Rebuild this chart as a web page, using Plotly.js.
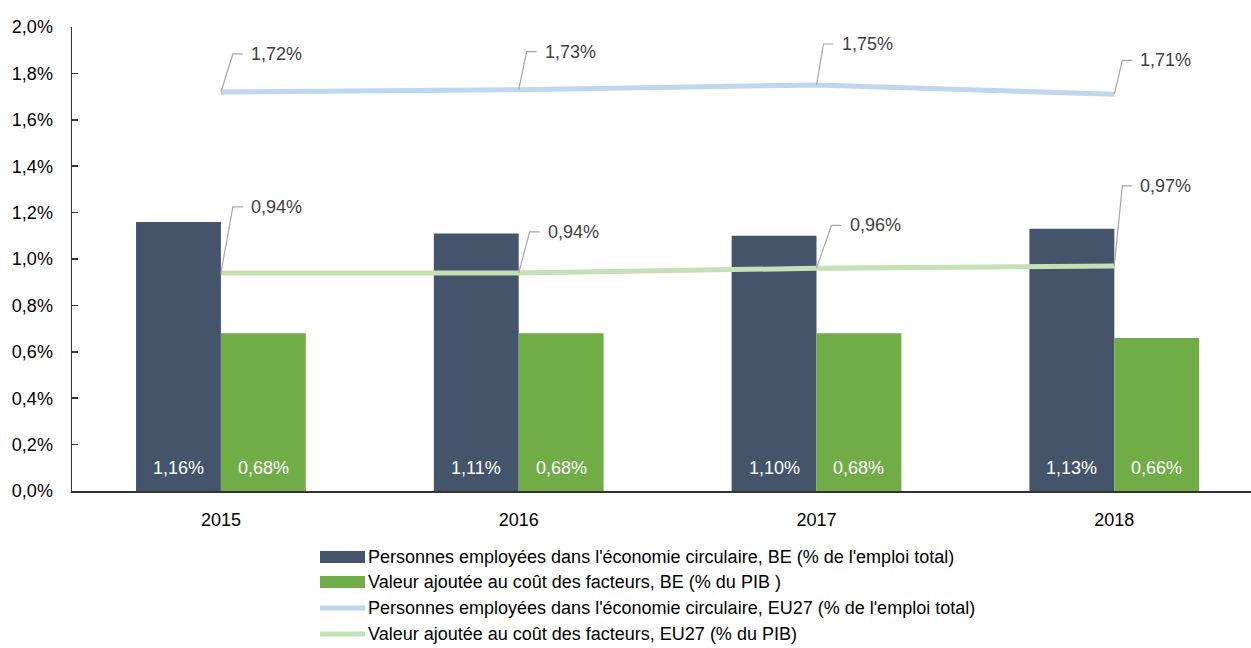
<!DOCTYPE html>
<html>
<head>
<meta charset="utf-8">
<script src="https://cdn.plot.ly/plotly-3.0.1.min.js"></script>
<style>html,body{margin:0;padding:0;background:#fff;}#chart{width:1251px;height:648px;}</style>
</head>
<body>
<div id="chart"></div>
<script>
// ---- data ----
var categories = ['2015', '2016', '2017', '2018'];
var beEmployment = [1.16, 1.11, 1.10, 1.13];
var beValueAdded = [0.68, 0.68, 0.68, 0.66];
var euEmployment = [1.72, 1.73, 1.75, 1.71];
var euValueAdded = [0.94, 0.94, 0.96, 0.97];
var seriesNames = [
  "Personnes employées dans l'économie circulaire, BE (% de l'emploi total)",
  "Valeur ajoutée au coût des facteurs, BE (% du PIB )",
  "Personnes employées dans l'économie circulaire, EU27 (% de l'emploi total)",
  "Valeur ajoutée au coût des facteurs, EU27 (% du PIB)"
];
var yTickVals = [0, 0.2, 0.4, 0.6, 0.8, 1.0, 1.2, 1.4, 1.6, 1.8, 2.0];
var yTickText = ['0,0%', '0,2%', '0,4%', '0,6%', '0,8%', '1,0%', '1,2%', '1,4%', '1,6%', '1,8%', '2,0%'];

// ---- style ----
var colors = ['#44546A', '#70AD47', '#BDD7EE', '#C5E0B4'];
var FONT = 'Liberation Sans, Arial, sans-serif';
var W = 1251, H = 648;
var M = {l: 72, r: 0, t: 27, b: 157};
var plotW = W - M.l - M.r, plotH = H - M.t - M.b;
var bargap = 0.43;
// leader-line offsets (pixels) for the line labels: [dx, dy]
var euEmpOffsets = [[12, 38], [8, 38], [7, 41], [8, 34]];
var euVaOffsets = [[12, 66], [11, 41], [15, 43], [8, 80]];

function fmt(v) { return v.toFixed(2).replace('.', ',') + '%'; }
function px2x(px) { return (px - M.l) / plotW; }
function px2y(py) { return (M.t + plotH - py) / plotH; }

var traces = [
  {type: 'bar', x: categories, y: beEmployment, name: seriesNames[0], marker: {color: colors[0]}, hoverinfo: 'none'},
  {type: 'bar', x: categories, y: beValueAdded, name: seriesNames[1], marker: {color: colors[1]}, hoverinfo: 'none'},
  {type: 'scatter', mode: 'lines', x: categories, y: euEmployment, name: seriesNames[2], line: {color: colors[2], width: 5}, hoverinfo: 'none'},
  {type: 'scatter', mode: 'lines', x: categories, y: euValueAdded, name: seriesNames[3], line: {color: colors[3], width: 5}, hoverinfo: 'none'}
];

var annotations = [];
var shapes = [];
var half = (1 - bargap) / 4;

function addLineLabels(vals, offs) {
  vals.forEach(function (v, i) {
    var dx = offs[i][0], dy = offs[i][1];
    shapes.push({
      type: 'path', xref: 'x', yref: 'y', xsizemode: 'pixel', ysizemode: 'pixel',
      xanchor: i, yanchor: v,
      path: 'M0,0 L' + dx + ',' + dy + ' L' + (dx + 10) + ',' + dy,
      line: {color: '#A6A6A6', width: 1.2}
    });
    annotations.push({
      x: i, y: v, xref: 'x', yref: 'y', text: fmt(v), showarrow: false,
      xanchor: 'left', yanchor: 'middle', xshift: dx + 16, yshift: dy,
      font: {family: FONT, size: 18, color: '#404040'}
    });
  });
}
addLineLabels(euEmployment, euEmpOffsets);
addLineLabels(euValueAdded, euVaOffsets);

function addBarLabels(vals, sign) {
  vals.forEach(function (v, i) {
    annotations.push({
      x: i + sign * half, y: 0, xref: 'x', yref: 'y', text: fmt(v), showarrow: false,
      xanchor: 'center', yanchor: 'middle', yshift: 23,
      font: {family: FONT, size: 18, color: '#FFFFFF'}
    });
  });
}
addBarLabels(beEmployment, -1);
addBarLabels(beValueAdded, 1);

// custom legend
var legendRows = [557, 582, 608, 634];
var symX0 = 320, symX1 = 365, textX = 366;
seriesNames.forEach(function (name, k) {
  var yc = legendRows[k];
  if (k < 2) {
    shapes.push({type: 'rect', xref: 'paper', yref: 'paper',
      x0: px2x(symX0), x1: px2x(symX1), y0: px2y(yc + 6), y1: px2y(yc - 6),
      fillcolor: colors[k], line: {width: 0}});
  } else {
    shapes.push({type: 'line', xref: 'paper', yref: 'paper',
      x0: px2x(symX0), x1: px2x(symX1), y0: px2y(yc), y1: px2y(yc),
      line: {color: colors[k], width: 5}});
  }
  annotations.push({xref: 'paper', yref: 'paper', x: px2x(textX), y: px2y(yc),
    xanchor: 'left', yanchor: 'middle', showarrow: false, text: name,
    font: {family: FONT, size: 18, color: '#000000'}});
});

var layout = {
  width: W, height: H, margin: M,
  paper_bgcolor: '#FFFFFF', plot_bgcolor: '#FFFFFF',
  showlegend: false,
  barmode: 'group', bargap: bargap, bargroupgap: 0,
  font: {family: FONT, size: 18, color: '#000000'},
  xaxis: {
    type: 'category', range: [-0.5, -0.5 + plotW / 297.8],
    showline: true, linecolor: '#333333', linewidth: 1.5,
    ticks: '', showgrid: false, zeroline: false,
    tickfont: {family: FONT, size: 18, color: '#000000'},
    ticklabelstandoff: 12
  },
  yaxis: {
    range: [0, 2.0], tickmode: 'array', tickvals: yTickVals, ticktext: yTickText,
    showline: true, linecolor: '#333333', linewidth: 1.5,
    ticks: 'inside', ticklen: 6, tickcolor: '#333333', tickwidth: 1.5,
    showgrid: false, zeroline: false,
    tickfont: {family: FONT, size: 18, color: '#000000'},
    ticklabelstandoff: 14
  },
  annotations: annotations,
  shapes: shapes
};

Plotly.newPlot('chart', traces, layout, {displayModeBar: false, staticPlot: true});
</script>
</body>
</html>
